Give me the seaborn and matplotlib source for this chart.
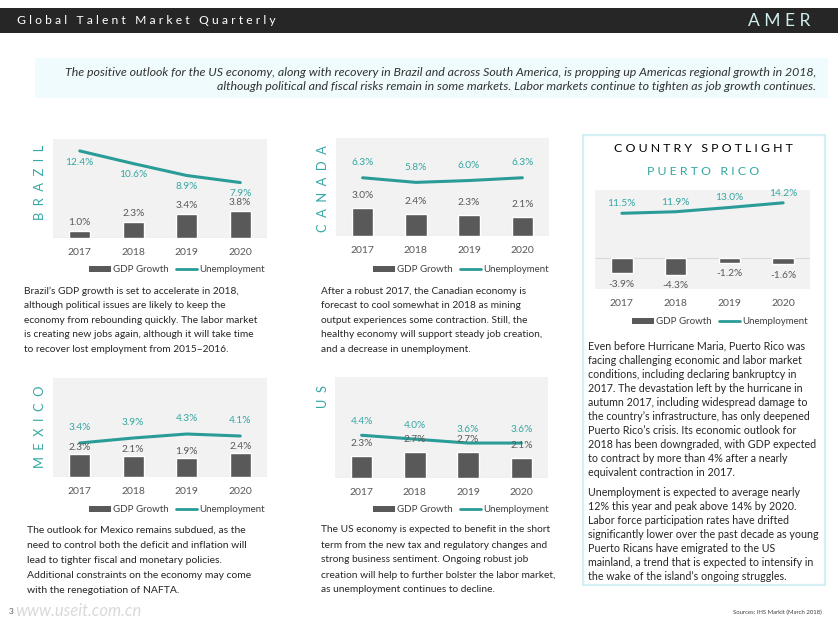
import numpy as np
import matplotlib
matplotlib.use("Agg")
import matplotlib.pyplot as plt
import seaborn as sns
from matplotlib.patches import Rectangle, Patch
from matplotlib.lines import Line2D

# data
years = ["2017", "2018", "2019", "2020"]

brazil_gdp = [1.0, 2.3, 3.4, 3.8]
brazil_unemp = [12.4, 10.6, 8.9, 7.9]

canada_gdp = [3.0, 2.4, 2.3, 2.1]
canada_unemp = [6.3, 5.8, 6.0, 6.3]

mexico_gdp = [2.3, 2.1, 1.9, 2.4]
mexico_unemp = [3.4, 3.9, 4.3, 4.1]

us_gdp = [2.3, 2.7, 2.7, 2.1]
us_unemp = [4.4, 4.0, 3.6, 3.6]

pr_gdp = [-3.9, -4.3, -1.2, -1.6]
pr_unemp = [11.5, 11.9, 13.0, 14.2]

legend_labels = ["GDP Growth", "Unemployment"]

header_title = "Global Talent Market Quarterly"
header_region = "AMER"
intro = [
    "The positive outlook for the US economy, along with recovery in Brazil and across South America, is propping up Americas regional growth in 2018,",
    "although political and fiscal risks remain in some markets. Labor markets continue to tighten as job growth continues.",
]
brazil_text = [
    "Brazil\u2019s GDP growth is set to accelerate in 2018,",
    "although political issues are likely to keep the",
    "economy from rebounding quickly. The labor market",
    "is creating new jobs again, although it will take time",
    "to recover lost employment from 2015\u20132016.",
]
canada_text = [
    "After a robust 2017, the Canadian economy is",
    "forecast to cool somewhat in 2018 as mining",
    "output experiences some contraction. Still, the",
    "healthy economy will support steady job creation,",
    "and a decrease in unemployment.",
]
mexico_text = [
    "The outlook for Mexico remains subdued, as the",
    "need to control both the deficit and inflation will",
    "lead to tighter fiscal and monetary policies.",
    "Additional constraints on the economy may come",
    "with the renegotiation of NAFTA.",
]
us_text = [
    "The US economy is expected to benefit in the short",
    "term from the new tax and regulatory changes and",
    "strong business sentiment. Ongoing robust job",
    "creation will help to further bolster the labor market,",
    "as unemployment continues to decline.",
]
pr_text_1 = [
    "Even before Hurricane Maria, Puerto Rico was",
    "facing challenging economic and labor market",
    "conditions, including declaring bankruptcy in",
    "2017. The devastation left by the hurricane in",
    "autumn 2017, including widespread damage to",
    "the country\u2019s infrastructure, has only deepened",
    "Puerto Rico\u2019s crisis. Its economic outlook for",
    "2018 has been downgraded, with GDP expected",
    "to contract by more than 4% after a nearly",
    "equivalent contraction in 2017.",
]
pr_text_2 = [
    "Unemployment is expected to average nearly",
    "12% this year and peak above 14% by 2020.",
    "Labor force participation rates have drifted",
    "significantly lower over the past decade as young",
    "Puerto Ricans have emigrated to the US",
    "mainland, a trend that is expected to intensify in",
    "the wake of the island\u2019s ongoing struggles.",
]

BAR = "#595959"
TEAL = "#2a9c97"
TEAL_TXT = "#35a7a2"
GREY_TXT = "#595959"
BODY = "#262626"

sns.set_style("white")
plt.rcParams["font.family"] = ["Lato", "DejaVu Sans"]

W, H = 840, 630
fig = plt.figure(figsize=(8.4, 6.3), dpi=100)
fig.patch.set_facecolor("white")


def px_axes(x0, y0, x1, y1):
    return fig.add_axes([x0 / W, 1 - y1 / H, (x1 - x0) / W, (y1 - y0) / H])


def ftext(x, y, s, **kw):
    return fig.text(x / W, 1 - y / H, s, **kw)


def rect(x0, y0, x1, y1, **kw):
    fig.add_artist(Rectangle((x0 / W, 1 - y1 / H), (x1 - x0) / W, (y1 - y0) / H,
                             transform=fig.transFigure, **kw))


def spaced(s, gap=" "):
    return gap.join(list(s))


def paragraph(x, y, lines, step=15, size=7.3):
    for i, line in enumerate(lines):
        ftext(x, y + i * step, line, fontsize=size, color=BODY, va="center", ha="left")


def draw_chart(box, gdp, unemp, ylim, u_off, g_off, leg_right, leg_y, tick_pad=7):
    ax = px_axes(*box)
    ax.set_facecolor("#f2f2f2")
    pos = np.arange(len(years))
    sns.barplot(x=pos, y=gdp, color=BAR, saturation=1, width=0.4, ax=ax)
    sns.lineplot(x=pos, y=unemp, color=TEAL, linewidth=2.2, ax=ax)
    ax.set_xlim(-0.5, len(years) - 0.5)
    ax.set_ylim(*ylim)
    ax.set_yticks([])
    ax.set_xticks(pos)
    ax.set_xticklabels(years)
    ax.set_xlabel("")
    ax.set_ylabel("")
    ax.tick_params(axis="x", length=0, pad=tick_pad, labelsize=7.5, colors=GREY_TXT)
    for s in ax.spines.values():
        s.set_visible(False)
    ax.axhline(0, color="#d9d9d9", linewidth=0.8, zorder=0.5)
    for i, (g, u) in enumerate(zip(gdp, unemp)):
        ax.annotate(f"{u:.1f}%", (i, u), xytext=(0, u_off), textcoords="offset points",
                    ha="center", va="center", fontsize=7.3, color=TEAL_TXT)
        ax.annotate(f"{g:.1f}%", (i, g), xytext=(0, g_off if g >= 0 else -g_off),
                    textcoords="offset points", ha="center", va="center",
                    fontsize=7.3, color=GREY_TXT)
    handles = [Patch(facecolor=BAR, edgecolor="none"), Line2D([], [], color=TEAL, lw=2)]
    ax.legend(handles, legend_labels, loc="center right", ncol=2, frameon=False,
              bbox_to_anchor=(leg_right / W, 1 - leg_y / H), bbox_transform=fig.transFigure,
              fontsize=7, labelcolor="#404040", handlelength=2.2, handleheight=0.6,
              handletextpad=0.2, columnspacing=0.8, borderaxespad=0, borderpad=0)
    return ax


# header
rect(0, 8, 838, 33, facecolor="#262626", edgecolor="none")
ftext(17, 20.5, spaced(header_title), fontsize=8.7, color="white", va="center", ha="left")
ftext(810, 20.5, spaced(header_region), fontsize=12.5, color="#cfeeee", va="center", ha="right")

# intro banner
rect(35, 58, 828, 98, facecolor="#effbfc", edgecolor="none")
for i, line in enumerate(intro):
    ftext(816, 72 + i * 14.5, line, fontsize=8.9, style="italic", color="#333333",
          va="center", ha="right")

# spotlight frame
rect(583, 135, 825, 585, facecolor="none", edgecolor="#d3f0f2", linewidth=1.6)
ftext(703, 148, spaced("COUNTRY SPOTLIGHT"), fontsize=8.9, color="black", va="center", ha="center")
ftext(703, 172, spaced("PUERTO RICO"), fontsize=8.9, color=TEAL_TXT, va="center", ha="center")

# charts
draw_chart((53, 139, 267, 238), brazil_gdp, brazil_unemp, (0, 14.1), -8, 6, 265, 270)
draw_chart((336, 138, 549, 236), canada_gdp, canada_unemp, (0, 10.6), 11, 9, 549, 270)
draw_chart((53, 378, 267, 477), mexico_gdp, mexico_unemp, (0, 9.9), 11, 5, 265, 510)
draw_chart((335, 377, 548, 478), us_gdp, us_unemp, (0, 10.4), 10, 9, 549, 510)
draw_chart((595, 190, 810, 289), pr_gdp, pr_unemp, (-8, 17.5), 7, 8, 808, 322, tick_pad=7.5)

# vertical country labels
for x, y, name in [(40, 145, "BRAZIL"), (323, 145, "CANADA"), (40, 385, "MEXICO"), (323, 385, "US")]:
    ftext(x, y, spaced(name, "  "), fontsize=9.3, color=TEAL_TXT, rotation=90, va="top", ha="center")

# body copy
paragraph(24, 291, brazil_text, step=14.6, size=7.3)
paragraph(321, 291, canada_text, step=14.6, size=7.3)
paragraph(27, 530, mexico_text, step=15.2, size=7.5)
paragraph(321, 530, us_text, step=15, size=7.3)
paragraph(588, 346, pr_text_1, step=14, size=7.7)
paragraph(588, 493, pr_text_2, step=14, size=7.7)

# footer
ftext(9, 612, "3", fontsize=6, color="#595959", va="center", ha="left")
ftext(15, 611, "www.useit.com.cn", fontsize=12, style="italic", color="#d9d9d9", va="center", ha="left")
ftext(822, 612, "Sources: IHS Markit (March 2018)", fontsize=4.3, color="#404040", va="center", ha="right")

fig.savefig("out.png", dpi=100, facecolor="white")
